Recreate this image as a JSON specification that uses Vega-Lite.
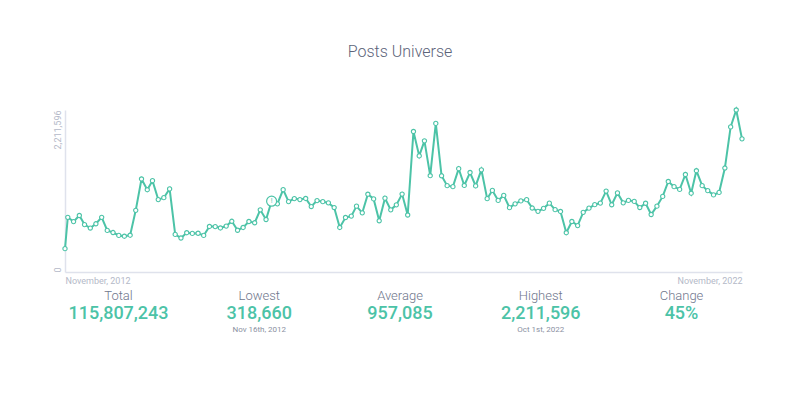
{
  "$schema": "https://vega.github.io/schema/vega-lite/v6.json",
  "width": 677,
  "height": 162,
  "autosize": {"type": "none"},
  "padding": {"left": 65, "top": 110, "right": 58, "bottom": 124},
  "background": "white",
  "config": {"view": {"stroke": null}, "font": "Roboto"},
  "title": {"text": "Posts Universe", "fontSize": 16, "fontWeight": 300, "color": "#5c6379", "offset": 33, "anchor": "middle", "frame": "group", "dx": -3.5, "baseline": "alphabetic"},
  "datasets": {
    "posts": [
      {"date": "2012-11-16", "posts": 318660},
      {"date": "2012-12-01", "posts": 746700},
      {"date": "2013-01-01", "posts": 688300},
      {"date": "2013-02-01", "posts": 771200},
      {"date": "2013-03-01", "posts": 647500},
      {"date": "2013-04-01", "posts": 600000},
      {"date": "2013-05-01", "posts": 658400},
      {"date": "2013-06-01", "posts": 745900},
      {"date": "2013-07-01", "posts": 567300},
      {"date": "2013-08-01", "posts": 538800},
      {"date": "2013-09-01", "posts": 499400},
      {"date": "2013-10-01", "posts": 488500},
      {"date": "2013-11-01", "posts": 502100},
      {"date": "2013-12-01", "posts": 841800},
      {"date": "2014-01-01", "posts": 1269900},
      {"date": "2014-02-01", "posts": 1123100},
      {"date": "2014-03-01", "posts": 1246800},
      {"date": "2014-04-01", "posts": 988600},
      {"date": "2014-05-01", "posts": 1014400},
      {"date": "2014-06-01", "posts": 1134000},
      {"date": "2014-07-01", "posts": 513000},
      {"date": "2014-08-01", "posts": 464100},
      {"date": "2014-09-01", "posts": 536100},
      {"date": "2014-10-01", "posts": 526600},
      {"date": "2014-11-01", "posts": 528900},
      {"date": "2014-12-01", "posts": 499400},
      {"date": "2015-01-01", "posts": 621700},
      {"date": "2015-02-01", "posts": 619800},
      {"date": "2015-03-01", "posts": 601200},
      {"date": "2015-04-01", "posts": 627100},
      {"date": "2015-05-01", "posts": 692400},
      {"date": "2015-06-01", "posts": 570100},
      {"date": "2015-07-01", "posts": 608100},
      {"date": "2015-08-01", "posts": 689600},
      {"date": "2015-09-01", "posts": 672000},
      {"date": "2015-10-01", "posts": 848600},
      {"date": "2015-11-01", "posts": 716800},
      {"date": "2015-12-01", "posts": 966900},
      {"date": "2016-01-01", "posts": 930200},
      {"date": "2016-02-01", "posts": 1124500},
      {"date": "2016-03-01", "posts": 961400},
      {"date": "2016-04-01", "posts": 1002200},
      {"date": "2016-05-01", "posts": 988600},
      {"date": "2016-06-01", "posts": 1003900},
      {"date": "2016-07-01", "posts": 893500},
      {"date": "2016-08-01", "posts": 975000},
      {"date": "2016-09-01", "posts": 959800},
      {"date": "2016-10-01", "posts": 943800},
      {"date": "2016-11-01", "posts": 879900},
      {"date": "2016-12-01", "posts": 608100},
      {"date": "2017-01-01", "posts": 744000},
      {"date": "2017-02-01", "posts": 763000},
      {"date": "2017-03-01", "posts": 898900},
      {"date": "2017-04-01", "posts": 807900},
      {"date": "2017-05-01", "posts": 1062000},
      {"date": "2017-06-01", "posts": 998100},
      {"date": "2017-07-01", "posts": 699200},
      {"date": "2017-08-01", "posts": 1007600},
      {"date": "2017-09-01", "posts": 848600},
      {"date": "2017-10-01", "posts": 916600},
      {"date": "2017-11-01", "posts": 1063300},
      {"date": "2017-12-01", "posts": 778000},
      {"date": "2018-01-01", "posts": 1918100},
      {"date": "2018-02-01", "posts": 1585200},
      {"date": "2018-03-01", "posts": 1790400},
      {"date": "2018-04-01", "posts": 1314700},
      {"date": "2018-05-01", "posts": 2028200},
      {"date": "2018-06-01", "posts": 1313400},
      {"date": "2018-07-01", "posts": 1178800},
      {"date": "2018-08-01", "posts": 1165300},
      {"date": "2018-09-01", "posts": 1411200},
      {"date": "2018-10-01", "posts": 1181600},
      {"date": "2018-11-01", "posts": 1358200},
      {"date": "2018-12-01", "posts": 1174800},
      {"date": "2019-01-01", "posts": 1394900},
      {"date": "2019-02-01", "posts": 1000800},
      {"date": "2019-03-01", "posts": 1113600},
      {"date": "2019-04-01", "posts": 977700},
      {"date": "2019-05-01", "posts": 1045700},
      {"date": "2019-06-01", "posts": 878500},
      {"date": "2019-07-01", "posts": 930200},
      {"date": "2019-08-01", "posts": 970900},
      {"date": "2019-09-01", "posts": 987200},
      {"date": "2019-10-01", "posts": 873100},
      {"date": "2019-11-01", "posts": 828200},
      {"date": "2019-12-01", "posts": 869000},
      {"date": "2020-01-01", "posts": 939700},
      {"date": "2020-02-01", "posts": 851300},
      {"date": "2020-03-01", "posts": 826500},
      {"date": "2020-04-01", "posts": 536100},
      {"date": "2020-05-01", "posts": 689600},
      {"date": "2020-06-01", "posts": 633900},
      {"date": "2020-07-01", "posts": 814700},
      {"date": "2020-08-01", "posts": 871700},
      {"date": "2020-09-01", "posts": 919300},
      {"date": "2020-10-01", "posts": 941000},
      {"date": "2020-11-01", "posts": 1104100},
      {"date": "2020-12-01", "posts": 917800},
      {"date": "2021-01-01", "posts": 1079600},
      {"date": "2021-02-01", "posts": 943800},
      {"date": "2021-03-01", "posts": 977700},
      {"date": "2021-04-01", "posts": 964100},
      {"date": "2021-05-01", "posts": 879900},
      {"date": "2021-06-01", "posts": 938400},
      {"date": "2021-07-01", "posts": 784800},
      {"date": "2021-08-01", "posts": 898900},
      {"date": "2021-09-01", "posts": 1032100},
      {"date": "2021-10-01", "posts": 1235900},
      {"date": "2021-11-01", "posts": 1165300},
      {"date": "2021-12-01", "posts": 1127200},
      {"date": "2022-01-01", "posts": 1331000},
      {"date": "2022-02-01", "posts": 1075600},
      {"date": "2022-03-01", "posts": 1382700},
      {"date": "2022-04-01", "posts": 1178800},
      {"date": "2022-05-01", "posts": 1110900},
      {"date": "2022-06-01", "posts": 1052400},
      {"date": "2022-07-01", "posts": 1086400},
      {"date": "2022-08-01", "posts": 1419400},
      {"date": "2022-09-01", "posts": 1980600},
      {"date": "2022-10-01", "posts": 2211596},
      {"date": "2022-11-01", "posts": 1817500}
    ],
    "flags": [{"date": "2015-12-01", "posts": 966900, "mark": "!"}],
    "stats": [
      {"label": "Total", "value": "115,807,243", "note": ""},
      {"label": "Lowest", "value": "318,660", "note": "Nov 16th, 2012"},
      {"label": "Average", "value": "957,085", "note": ""},
      {"label": "Highest", "value": "2,211,596", "note": "Oct 1st, 2022"},
      {"label": "Change", "value": "45%", "note": ""}
    ]
  },
  "layer": [
    {
      "encoding": {
        "x": {
          "field": "date", "type": "temporal",
          "scale": {"type": "utc", "nice": false},
          "axis": {
            "title": null,
            "values": [{"year": 2012, "month": 11, "date": 16, "utc": true}, {"year": 2022, "month": 11, "date": 1, "utc": true}],
            "format": "%B, %Y",
            "labelFlush": true,
            "ticks": false,
            "grid": false,
            "labelPadding": 4,
            "labelFontSize": 9,
            "labelColor": "#b4b9c8",
            "labelFont": "Roboto",
            "domainColor": "#dfe2ec",
            "domainWidth": 1.5
          }
        },
        "y": {
          "field": "posts", "type": "quantitative",
          "scale": {"domain": [0, 2211596], "nice": false, "zero": true},
          "axis": {
            "title": null,
            "values": [0, 2211596],
            "format": ",d",
            "labelAngle": 270,
            "labelAlign": {"condition": {"test": "datum.value == 0", "value": "left"}, "value": "right"},
            "ticks": false,
            "grid": false,
            "labelPadding": 3,
            "labelFontSize": 9,
            "labelColor": "#b4b9c8",
            "labelFont": "Roboto",
            "domainColor": "#dfe2ec",
            "domainWidth": 1.5
          }
        }
      },
      "layer": [
        {
          "data": {"name": "posts"},
          "mark": {"type": "line", "color": "#4cc3a7", "strokeWidth": 2, "point": {"filled": false, "fill": "white", "stroke": "#4cc3a7", "size": 18, "strokeWidth": 1.1}}
        },
        {
          "data": {"name": "flags"},
          "mark": {"type": "point", "filled": false, "fill": "white", "stroke": "#4cc3a7", "size": 100, "strokeWidth": 1.2, "opacity": 1}
        },
        {
          "data": {"name": "flags"},
          "mark": {"type": "text", "color": "#4cc3a7", "fontSize": 7, "baseline": "middle", "align": "center"},
          "encoding": {"text": {"field": "mark"}}
        }
      ]
    },
    {
      "data": {"name": "stats"},
      "encoding": {
        "x": {"field": "label", "type": "nominal", "sort": null, "scale": {"type": "point", "padding": 0.405}, "axis": null},
        "y": {"datum": 0, "type": "quantitative", "scale": {"domain": [0, 1]}, "axis": null}
      },
      "layer": [
        {
          "mark": {"type": "text", "fontSize": 13, "fontWeight": 300, "color": "#6f768c", "dx": -3.5, "dy": 28, "baseline": "alphabetic", "align": "center"},
          "encoding": {"text": {"field": "label"}}
        },
        {
          "mark": {"type": "text", "fontSize": 18, "fontWeight": 500, "color": "#4cc3a7", "dx": -3.5, "dy": 47, "baseline": "alphabetic", "align": "center"},
          "encoding": {"text": {"field": "value"}}
        },
        {
          "mark": {"type": "text", "fontSize": 8, "color": "#8a90a2", "dx": -3.5, "dy": 60, "baseline": "alphabetic", "align": "center"},
          "encoding": {"text": {"field": "note"}}
        }
      ]
    }
  ],
  "resolve": {"scale": {"x": "independent", "y": "independent"}, "axis": {"x": "independent", "y": "independent"}}
}
